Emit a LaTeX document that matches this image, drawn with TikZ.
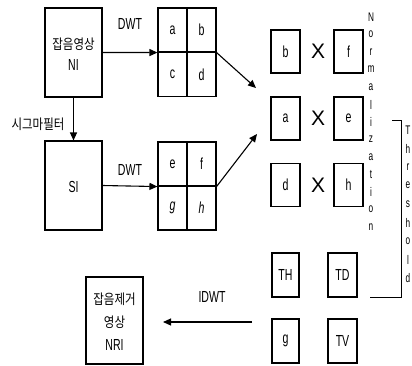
\documentclass[tikz,border=0pt]{standalone}
\usepackage{fontspec}
\setmainfont{Liberation Sans}[FakeStretch=0.66]
\newfontfamily\kor{Noto Sans CJK KR}[FakeStretch=0.82]
\newfontfamily\xfont{Liberation Sans}
\usetikzlibrary{arrows.meta,positioning}
\begin{document}
\begin{tikzpicture}[x=1pt,y=-1pt,
  line width=1.1pt,
  every node/.style={font=\fontsize{16}{18}\selectfont},
  cell/.style={draw, inner sep=0pt, minimum width=29pt, minimum height=44pt},
  small/.style={draw, inner sep=0pt, minimum width=29pt, minimum height=43pt},
  arr/.style={-{Triangle[length=8pt,width=7pt]}},
  lbl/.style={inner sep=0pt},
  xl/.style={inner sep=0pt, font=\xfont\fontsize{21}{21}\selectfont},
  kt/.style={inner sep=0pt, font=\kor\fontsize{14}{16}\selectfont},
  vt/.style={inner sep=0pt, font=\fontsize{12.5}{13}\selectfont}
]
\useasboundingbox (0,0) rectangle (412,365);
% NI box
\node[draw, inner sep=0pt, minimum width=57pt, minimum height=89pt] (ni) at (73.5,52.5) {};
\node[kt] (nik) at (73.5,44) {잡음영상};
\node[lbl] (nit) at (73.5,65) {NI};
% SI box
\node[draw, inner sep=0pt, minimum width=57pt, minimum height=89pt] (si) at (73.5,185.5) {};
\node[lbl] (sit) at (73.5,187) {SI};
% grids
\node[cell] (ga) at (172.5,30) {a};
\node[cell] (gb) at (201.5,30) {b};
\node[cell] (gc) at (172.5,74.5) {c};
\node[cell] (gd) at (201.5,74.5) {d};
\node[cell] (ge) at (172.5,164) {e};
\node[cell] (gf) at (201.5,164) {f};
\node[cell] (gg) at (172.5,208) {\textit{g}};
\node[cell] (gh) at (201.5,208) {\textit{h}};
% labels
\node[lbl] (dwt1) at (130,24) {DWT};
\node[lbl] (dwt2) at (130,170) {DWT};
\node[kt] (sig) at (38,124) {시그마필터};
% arrows
\draw[arr] (ni.east) -- (ga.south west);
\draw[arr] (si.east) -- (ge.south west);
\draw[arr] (ni.south) -- (si.north);
\coordinate (t1) at (256,88);
\coordinate (t2) at (257,134);
\draw[arr] (gb.south east) -- (t1);
\draw[arr] (gf.south east) -- (t2);
% right boxes
\node[small] (rb) at (285.5,51.5) {b};
\node[small] (rf) at (348.5,51.5) {f};
\node[xl] (x1) at (318,51) {X};
\node[small] (ra) at (285.5,118.5) {a};
\node[small] (re) at (348.5,118.5) {e};
\node[xl] (x2) at (318,118) {X};
\node[small] (rd) at (285.5,185) {d};
\node[small] (rh) at (348.5,185) {h};
\node[xl] (x3) at (318,185) {X};
\node[draw, inner sep=0pt, minimum width=27pt, minimum height=44pt] (th) at (285.5,275) {TH};
\node[draw, inner sep=0pt, minimum width=29pt, minimum height=44pt] (td) at (342.5,275) {TD};
\node[draw, inner sep=0pt, minimum width=27pt, minimum height=44pt] (rg) at (285.5,341) {g};
\node[draw, inner sep=0pt, minimum width=29pt, minimum height=44pt] (tv) at (342.5,341) {TV};
% Normalization
\foreach \ch [count=\i] in {N,o,r,m,a,l,i,z,a,t,i,o,n}
  \node[vt] (nrm\i) at (371,{17+(\i-1)*17.5}) {\ch};
% Threshold
\foreach \ch [count=\i] in {T,h,r,e,s,h,o,l,d}
  \node[vt] (thr\i) at (408,{130+(\i-1)*18.5}) {\ch};
% bracket
\coordinate (bk1) at (392,120);
\coordinate (bk2) at (401,120);
\coordinate (bk3) at (401,297);
\coordinate (bk4) at (370,297);
\draw[line width=0.9pt] (bk1) -- (bk2) -- (bk3) -- (bk4);
% NRI box
\node[draw, inner sep=0pt, minimum width=57pt, minimum height=87pt] (nri) at (114.5,320.5) {};
\node[kt] (nrik1) at (114.5,299) {잡음제거};
\node[kt] (nrik2) at (114.5,322) {영상};
\node[lbl] (nrit) at (114.5,345) {NRI};
\node[lbl] (idwt) at (212,297) {IDWT};
\coordinate (ia) at (252,322);
\coordinate (ib) at (163,322);
\draw[arr] (ia) -- (ib);
\end{tikzpicture}
\end{document}
